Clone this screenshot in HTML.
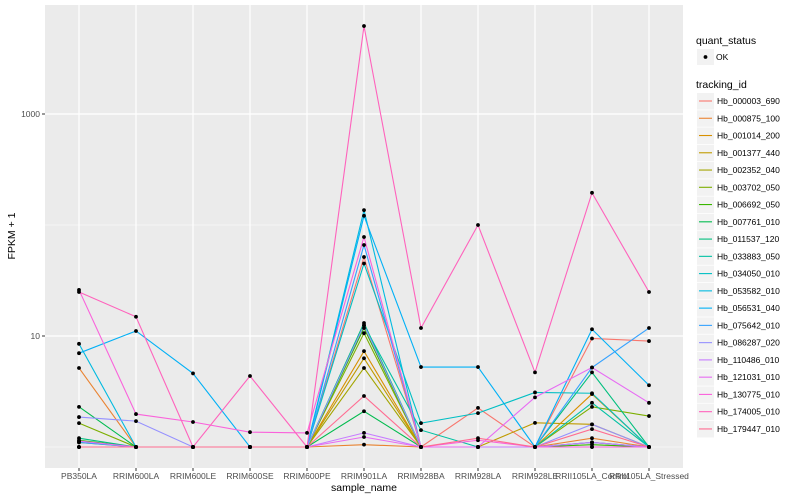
<!DOCTYPE html>
<html><head><meta charset="utf-8"><style>
html,body{margin:0;padding:0;background:#fff;}
svg{display:block;font-family:"Liberation Sans",sans-serif;}
</style></head><body>
<svg id="chart" width="800" height="500"></svg>
<script>
const categories=["PB350LA","RRIM600LA","RRIM600LE","RRIM600SE","RRIM600PE","RRIM901LA","RRIM928BA","RRIM928LA","RRIM928LE","RRII105LA_Control","RRII105LA_Stressed"];
const seriesIds=["Hb_000003_690","Hb_000875_100","Hb_001014_200","Hb_001377_440","Hb_002352_040","Hb_003702_050","Hb_006692_050","Hb_007761_010","Hb_011537_120","Hb_033883_050","Hb_034050_010","Hb_053582_010","Hb_056531_040","Hb_075642_010","Hb_086287_020","Hb_110486_010","Hb_121031_010","Hb_130775_010","Hb_174005_010","Hb_179447_010"];
const seriesColors=["#F8766D","#EA8331","#D89000","#C09B00","#A3A500","#7CAE00","#39B600","#00BB4E","#00BF7D","#00C1A3","#00BFC4","#00BAE0","#00B0F6","#35A2FF","#9590FF","#C77CFF","#E76BF3","#FA62DB","#FF62BC","#FF6C91"];
const v000003=[1,1,1,1,1,51.5,1,2.25,1,9.5,9.0];
const v000875=[5.15,1,1,1,1,1.05,1,1,1,1.2,1];
const v001014=[1,1,1,1,1,7.3,1,1,1,3.0,1];
const v001377=[1,1,1,1,1,6.3,1,1,1.65,1.6,1];
const v002352=[1.1,1,1,1,1,5.15,1,1,1,1.1,1];
const v003702=[1.64,1,1,1,1,10.6,1,1,1,2.3,1.9];
const v006692=[1.15,1,1,1,1,11.8,1,1,1,1.05,1];
const v007761=[2.3,1,1,1,1,2.1,1,1,1,1,1];
const v011537=[1.2,1,1,1,1,13.1,1,1,1,4.7,1];
const v033883=[1,1,1,1,1,12.5,1.42,1,1,2.5,1];
const v034050=[1,1,1,1,1,45,1.64,2.02,3.1,3.05,1];
const v053582=[8.5,1,1,1,1,136,1,1,1,1.1,1];
const v056531=[7.0,11.1,4.6,1,1,121,5.25,5.25,1,11.5,3.6];
const v075642=[1.1,1,1,1,1,66,1,1,1,5.2,11.8];
const v086287=[1.86,1.71,1,1,1,12.5,1,1,1,1.6,1];
const v110486=[1,1,1,1,1,1.34,1,1,1,1.1,1];
const v121031=[1.13,1,1,1,1,1.23,1,1,2.8,5.2,2.5];
const v130775=[26,1.98,1.68,1.36,1.34,78,1,1.15,1,1,1];
const v174005=[24.9,14.9,1,4.36,1,6200,11.8,100,4.7,195,24.9];
const v179447=[1,1,1,1,1,2.88,1,1.2,1,1.45,1];
const seriesValues=[v000003,v000875,v001014,v001377,v002352,v003702,v006692,v007761,v011537,v033883,v034050,v053582,v056531,v075642,v086287,v110486,v121031,v130775,v174005,v179447];
const yMajorTicks=[10,1000];
const yMajorLabels=["10","1000"];
const yMinorTicks=[1,100,10000];

const NS="http://www.w3.org/2000/svg";
const svg=document.getElementById("chart");
function mk(t,a,p){const e=document.createElementNS(NS,t);for(const k in a)e.setAttribute(k,a[k]);(p||svg).appendChild(e);return e;}
const PL=45,PR=683,PT=5,PB=468;
function xS(i){return 79+i*57;}
function yS(v){return 447-Math.log10(v)*111;}

const panel=mk("rect",{x:PL,y:PT,width:PR-PL,height:PB-PT,fill:"#EBEBEB"});


const clip=mk("clipPath",{id:"pc"});mk("rect",{x:PL,y:PT,width:PR-PL,height:PB-PT},clip);
const grid=mk("g",{"clip-path":"url(#pc)"});


yMinorTicks.forEach(v=>{mk("line",{x1:PL,x2:PR,y1:yS(v),y2:yS(v),stroke:"#fff","stroke-width":0.6},grid);});
yMajorTicks.forEach(v=>{mk("line",{x1:PL,x2:PR,y1:yS(v),y2:yS(v),stroke:"#fff","stroke-width":1.2},grid);});
categories.forEach((c,i)=>{mk("line",{x1:xS(i),x2:xS(i),y1:PT,y2:PB,stroke:"#fff","stroke-width":1.2},grid);});

const lines=mk("g",{"clip-path":"url(#pc)"});
seriesValues.forEach((vals,s)=>{
  const d=vals.map((v,i)=>(i?"L":"M")+xS(i)+","+yS(v)).join("");
  const p=mk("path",{d:d,fill:"none",stroke:seriesColors[s],"stroke-width":1.1},lines);
  
  
});
seriesValues.forEach((vals,s)=>{
  vals.forEach((v,i)=>{
    const c=mk("circle",{cx:xS(i),cy:yS(v),r:1.9,fill:"#000"},lines);
    
    
  });
});

yMajorTicks.forEach((v,k)=>{
  mk("line",{x1:PL-3,x2:PL,y1:yS(v),y2:yS(v),stroke:"#333","stroke-width":1});
  const t=mk("text",{x:PL-5,y:yS(v)+3,"text-anchor":"end","font-size":"8.5",fill:"#4D4D4D"});
  t.textContent=yMajorLabels[k];
  
  
});
categories.forEach((c,i)=>{
  mk("line",{x1:xS(i),x2:xS(i),y1:PB,y2:PB+3,stroke:"#333","stroke-width":1});
  const t=mk("text",{x:xS(i),y:PB+11,"text-anchor":"middle","font-size":"8.5",fill:"#4D4D4D"});
  t.textContent=c;
  
  
});
const xt=mk("text",{x:364,y:491,"text-anchor":"middle","font-size":"10.5",fill:"#000"});
xt.textContent="sample_name";


const yt=mk("text",{x:0,y:0,"text-anchor":"middle","font-size":"10.5",fill:"#000",transform:"translate(15,236) rotate(-90)"});
yt.textContent="FPKM + 1";



const lg=mk("g",{});


const t1=mk("text",{x:696,y:44,"font-size":"10.5",fill:"#000"},lg);
t1.textContent="quant_status";


mk("rect",{x:697,y:49,width:17,height:16,fill:"#F2F2F2"},lg);
mk("circle",{cx:705.5,cy:57,r:1.9,fill:"#000"},lg);
const ok=mk("text",{x:716,y:60,"font-size":"8.5",fill:"#000"},lg);
ok.textContent="OK";


const t2=mk("text",{x:696,y:88,"font-size":"10.5",fill:"#000"},lg);
t2.textContent="tracking_id";


seriesIds.forEach((id,s)=>{
  const cy=101+s*17.26;
  const g=mk("g",{},lg);
  
  
  mk("rect",{x:697,y:cy-8,width:17,height:16.5,fill:"#F2F2F2"},g);
  mk("line",{x1:699,x2:712,y1:cy,y2:cy,stroke:seriesColors[s],"stroke-width":1.1},g);
  const t=mk("text",{x:717,y:cy+3,"font-size":"8.5",fill:"#000"},g);
  t.textContent=id;
});
</script>
</body></html>
